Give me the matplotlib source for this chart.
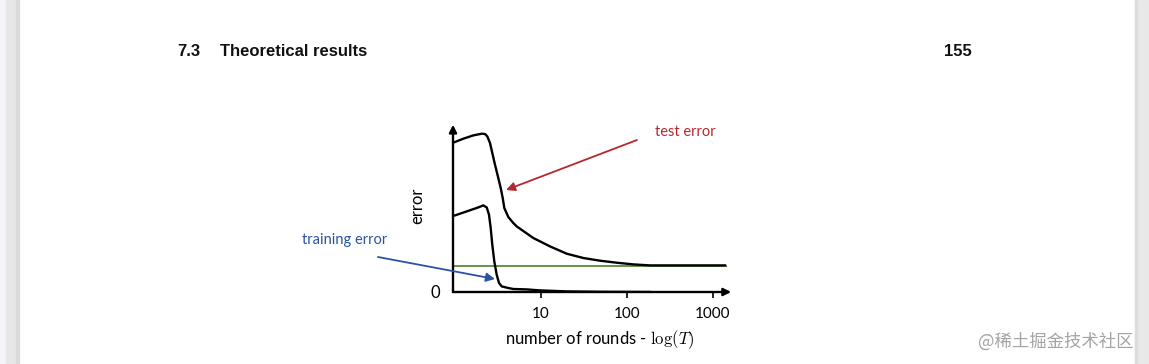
import matplotlib.pyplot as plt
from matplotlib.patches import Rectangle

plt.rcParams['font.family'] = ['Lato', 'DejaVu Sans']
plt.rcParams['mathtext.fontset'] = 'cm'

# 곡선 데이터 (x: 라운드 수 T, y: 오차)
test_rounds = [1.0, 1.249, 1.632, 2.044, 2.233, 2.375, 2.553, 2.715, 2.918, 3.188,
               3.400, 3.587, 3.744, 4.167, 4.764, 5.217, 8.139, 12.73, 19.90, 31.04,
               48.53, 75.9, 118.4, 185.1, 706, 1380]
test_error = [150, 153.3, 156.6, 158.3, 158, 155.6, 149, 139, 127.3, 114,
              104, 94, 84, 75, 69, 65.6, 54, 45.6, 38.3, 34,
              31.3, 29.3, 27.6, 26.6, 26.6, 26.6]

train_rounds = [1.0, 1.368, 1.866, 2.134, 2.337, 2.485, 2.601, 2.715, 2.864, 3.054,
                3.249, 3.492, 4.167, 4.764, 6.82, 9.736, 19.90, 48.53, 185]
train_error = [76.6, 80.6, 84.6, 86.6, 84.6, 77.3, 64, 47.3, 30.6, 17.3,
               9, 5.6, 4, 3, 2.6, 1.6, 0.6, 0.2, 0]

level_rounds = [0.948, 1455]
level_error = [26, 26]

tick_rounds = [10, 100, 1000]
tick_labels = ['10', '100', '1000']

W, H = 1149, 364


def px(x, y):
    return x / W, 1 - y / H


fig = plt.figure(figsize=(W / 100, H / 100), dpi=100)

# 페이지 테두리
fig.patches.append(Rectangle((0, 0), 6 / W, 1, transform=fig.transFigure, color='#f3f5f9', zorder=0))
fig.patches.append(Rectangle((6 / W, 0), 12 / W, 1, transform=fig.transFigure, color='#e6e6e6', zorder=0))
fig.patches.append(Rectangle((16 / W, 0), 3 / W, 1, transform=fig.transFigure, color='#dadada', zorder=0))
fig.patches.append(Rectangle((1135 / W, 0), 14 / W, 1, transform=fig.transFigure, color='#e8e8e8', zorder=5))
fig.patches.append(Rectangle((1135 / W, 0), 2 / W, 1, transform=fig.transFigure, color='#dcdcdc', zorder=5))

# 머리말
head = dict(family=['Liberation Sans Narrow', 'Liberation Sans'], weight='bold', fontsize=12,
            va='center', color='#111111')
fig.text(*px(177, 52), '7.3', ha='left', **head)
fig.text(*px(220, 52), 'Theoretical results', ha='left', **head)
fig.text(*px(944, 52), '155', ha='left', **head)

ax = fig.add_axes([453 / W, 72 / H, 274 / W, 164 / H])
ax.set_xscale('log')
ax.set_xlim(0.948, 1455)
ax.set_ylim(0, 164)
for s in ax.spines.values():
    s.set_visible(False)
ax.patch.set_alpha(0)

ax.plot(level_rounds, level_error, color='#5b8a3c', lw=1.3)
ax.plot(test_rounds, test_error, color='black', lw=1.7, solid_joinstyle='round')
ax.plot(train_rounds, train_error, color='black', lw=1.7, solid_joinstyle='round')

# 축 화살표
arrow = dict(arrowstyle='-|>', lw=1.7, color='black', mutation_scale=11, shrinkA=0, shrinkB=0)
ax.annotate('', xy=(1.015, 0), xytext=(0, 0), xycoords='axes fraction', arrowprops=arrow)
ax.annotate('', xy=(0, 1.02), xytext=(0, 0), xycoords='axes fraction', arrowprops=arrow)

ax.set_xticks(tick_rounds)
ax.set_xticklabels(tick_labels)
ax.xaxis.set_minor_locator(plt.NullLocator())
ax.tick_params(axis='x', direction='out', length=4, width=1.2, pad=7, labelsize=11)
ax.set_yticks([0])
ax.set_yticklabels(['0'])
ax.tick_params(axis='y', length=0, pad=9, labelsize=12)

# 주석
ax.annotate('', xy=(3.92, 102), xytext=(130.7, 152), annotation_clip=False,
            arrowprops=dict(arrowstyle='-|>', color='#b5282e', lw=1.3, mutation_scale=13,
                            shrinkA=0, shrinkB=0))
ax.annotate('', xy=(2.918, 13), xytext=(0.127, 35), annotation_clip=False,
            arrowprops=dict(arrowstyle='-|>', color='#2b52a3', lw=1.3, mutation_scale=13,
                            shrinkA=0, shrinkB=0))
fig.text(*px(655, 132), 'test error', color='#b5282e', fontsize=10.5, va='center', ha='left')
fig.text(*px(302, 240), 'training error', color='#2b52a3', fontsize=10.5, va='center', ha='left')
fig.text(*px(417, 206), 'error', rotation=90, fontsize=12, va='center', ha='center')
fig.text(*px(600, 340), r'number of rounds - $\log(T)$', fontsize=12, va='center', ha='center')

# 워터마크
fig.text(*px(978, 342), '@稀土掘金技术社区', family=['Noto Sans CJK SC', 'DejaVu Sans'],
         fontsize=12.5, color='#a3a3a3', va='center', ha='left', zorder=4)

fig.savefig('out.png', dpi=100)
